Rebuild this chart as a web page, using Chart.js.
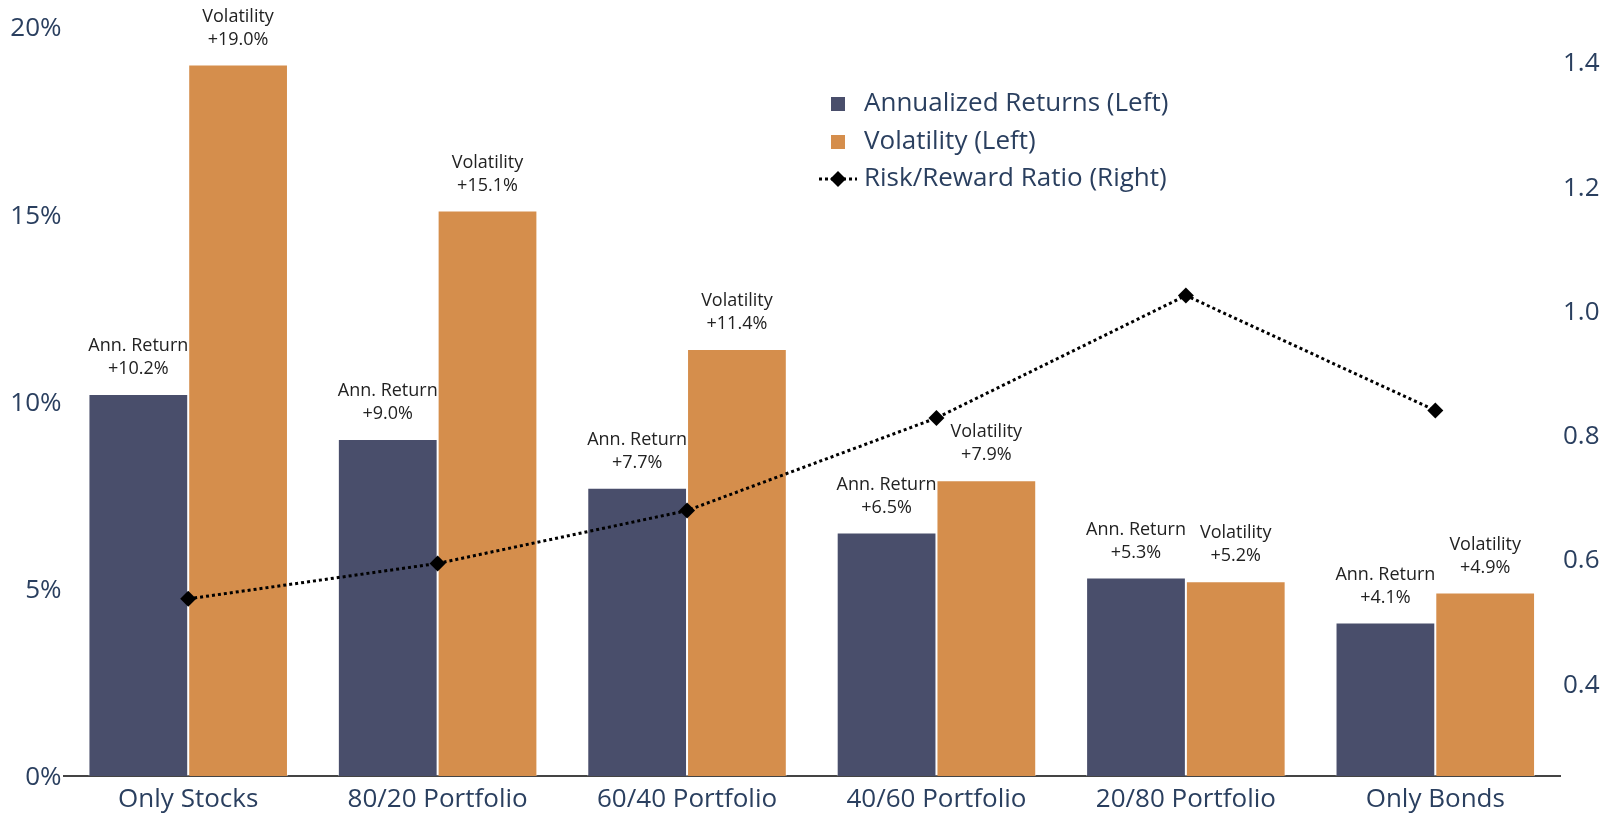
<!DOCTYPE html>
<html>
<head>
<meta charset="utf-8">
<script src="https://cdn.jsdelivr.net/npm/chart.js@4/dist/chart.umd.min.js"></script>
<style>
  html, body { margin: 0; padding: 0; background: #fff; }
  #wrap { width: 1612px; height: 815px; position: relative; }
</style>
</head>
<body>
<div id="wrap"><canvas id="c"></canvas></div>
<script>
// Portfolio mixes and their statistics
const categories = ['Only Stocks', '80/20 Portfolio', '60/40 Portfolio', '40/60 Portfolio', '20/80 Portfolio', 'Only Bonds'];
const annualizedReturns = [10.2, 9.0, 7.7, 6.5, 5.3, 4.1];
const volatility = [19.0, 15.1, 11.4, 7.9, 5.2, 4.9];
const riskRewardRatio = [0.536, 0.593, 0.678, 0.827, 1.024, 0.839];

// Axis ticks
const leftTicks = [0, 5, 10, 15, 20];
const rightTicks = [0.4, 0.6, 0.8, 1.0, 1.2, 1.4];

// Series names and bar captions
const seriesNames = ['Annualized Returns (Left)', 'Volatility (Left)', 'Risk/Reward Ratio (Right)'];
const barCaptions = ['Ann. Return', 'Volatility'];

const FONT = '"Open Sans", "Noto Sans", sans-serif';
const AXIS_TEXT = '#2a3f5f';
const RETURN_COLOR = '#494e6b';
const VOL_COLOR = '#d58e4c';

Chart.defaults.font.family = FONT;
Chart.defaults.color = AXIS_TEXT;

function drawDiamond(ctx, x, y, r) {
  ctx.beginPath();
  ctx.moveTo(x, y - r);
  ctx.lineTo(x + r, y);
  ctx.lineTo(x, y + r);
  ctx.lineTo(x - r, y);
  ctx.closePath();
  ctx.fill();
}

// Two-line caption above every bar
const barLabels = {
  id: 'barLabels',
  afterDatasetsDraw(chart) {
    const ctx = chart.ctx;
    ctx.save();
    ctx.font = '18px ' + FONT;
    ctx.fillStyle = '#222';
    ctx.textAlign = 'center';
    ctx.textBaseline = 'middle';
    [0, 1].forEach(di => {
      const meta = chart.getDatasetMeta(di);
      const values = chart.data.datasets[di].data;
      meta.data.forEach((bar, i) => {
        ctx.fillText(barCaptions[di], bar.x, bar.y - 48);
        ctx.fillText('+' + values[i].toFixed(1) + '%', bar.x, bar.y - 25);
      });
    });
    ctx.restore();
  }
};

// Vertical legend placed inside the plot
const sideLegend = {
  id: 'sideLegend',
  afterDraw(chart) {
    const ctx = chart.ctx;
    const markX = 838, textX = 864;
    const rows = [104, 142, 179];
    ctx.save();
    ctx.font = '26px ' + FONT;
    ctx.textBaseline = 'middle';
    ctx.textAlign = 'left';
    chart.data.datasets.forEach((ds, i) => {
      const y = rows[i];
      if (ds.type === 'line') {
        ctx.strokeStyle = ds.borderColor;
        ctx.lineWidth = 3;
        ctx.setLineDash([3, 3]);
        ctx.beginPath();
        ctx.moveTo(markX - 19, y);
        ctx.lineTo(markX + 19, y);
        ctx.stroke();
        ctx.setLineDash([]);
        ctx.fillStyle = ds.pointBackgroundColor;
        drawDiamond(ctx, markX, y, 8);
      } else {
        ctx.fillStyle = ds.backgroundColor;
        ctx.fillRect(markX - 7, y - 7, 14, 14);
      }
      ctx.fillStyle = AXIS_TEXT;
      ctx.fillText(ds.label, textX, y);
    });
    ctx.restore();
  }
};

new Chart(document.getElementById('c'), {
  type: 'bar',
  data: {
    labels: categories,
    datasets: [
      {
        label: seriesNames[0],
        data: annualizedReturns,
        backgroundColor: RETURN_COLOR,
        borderColor: 'rgba(255,255,255,0.45)',
        borderWidth: 1,
        yAxisID: 'y',
        categoryPercentage: 0.8,
        barPercentage: 1.0,
        order: 2
      },
      {
        label: seriesNames[1],
        data: volatility,
        backgroundColor: VOL_COLOR,
        borderColor: 'rgba(255,255,255,0.45)',
        borderWidth: 1,
        yAxisID: 'y',
        categoryPercentage: 0.8,
        barPercentage: 1.0,
        order: 2
      },
      {
        type: 'line',
        label: seriesNames[2],
        data: riskRewardRatio,
        borderColor: '#000',
        borderWidth: 3,
        borderDash: [3, 3],
        pointStyle: 'rectRot',
        pointRadius: 8,
        pointBackgroundColor: '#000',
        pointBorderColor: '#000',
        pointBorderWidth: 0,
        fill: false,
        tension: 0,
        yAxisID: 'y1',
        order: 0
      }
    ]
  },
  options: {
    responsive: true,
    maintainAspectRatio: false,
    animation: false,
    layout: { padding: { top: 27, left: 0, right: 0, bottom: 0 } },
    plugins: {
      legend: { display: false },
      tooltip: { enabled: false }
    },
    scales: {
      x: {
        grid: { display: false, drawTicks: false },
        border: { display: true, color: '#444', width: 2 },
        ticks: { font: { size: 26 }, color: AXIS_TEXT, padding: 8, maxRotation: 0 },
        afterFit(scale) { scale.height = 39; }
      },
      y: {
        position: 'left',
        min: 0,
        max: 20,
        grid: { display: false, drawTicks: false },
        border: { display: false },
        afterBuildTicks(scale) { scale.ticks = leftTicks.map(v => ({ value: v })); },
        ticks: {
          font: { size: 26 },
          color: AXIS_TEXT,
          padding: 2,
          labelOffset: 2,
          callback: v => v + '%'
        },
        afterFit(scale) { scale.width = 63.5; }
      },
      y1: {
        position: 'right',
        min: 0.251,
        max: 1.456,
        grid: { display: false, drawTicks: false },
        border: { display: false },
        afterBuildTicks(scale) { scale.ticks = rightTicks.map(v => ({ value: v })); },
        ticks: {
          font: { size: 26 },
          color: AXIS_TEXT,
          padding: 3,
          labelOffset: 2,
          callback: v => v.toFixed(1)
        },
        afterFit(scale) { scale.width = 52; }
      }
    }
  },
  plugins: [barLabels, sideLegend]
});
</script>
</body>
</html>
